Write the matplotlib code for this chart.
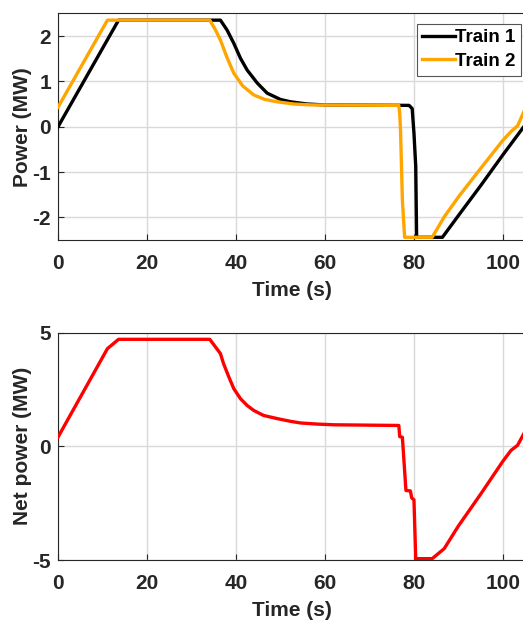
import matplotlib
matplotlib.use("Agg")
import matplotlib.pyplot as plt

plt.rcParams['font.family'] = ['Liberation Sans', 'DejaVu Sans']
plt.rcParams['font.weight'] = 'bold'
plt.rcParams['axes.unicode_minus'] = False

# Train 1 power profile (s, MW)
t_train1 = [0, 13.6, 36.5, 38.0, 39.5, 41.0, 42.5, 44.8, 47.0, 50.0, 52.2, 56.0, 60.0,
            78.9, 79.6, 80.0, 80.4, 80.6, 86.4, 90.0, 95.0, 100.0, 104.7]
p_train1 = [0, 2.35, 2.35, 2.13, 1.84, 1.51, 1.25, 0.96, 0.74, 0.60, 0.55, 0.50, 0.48,
            0.47, 0.40, -0.14, -0.87, -2.44, -2.44, -1.96, -1.30, -0.62, 0.0]

# Train 2 power profile (s, MW)
t_train2 = [0, 11.1, 34.1, 35.3, 36.5, 38.0, 39.5, 41.5, 44.0, 46.5, 49.2, 53.0, 57.0,
            76.6, 76.8, 77.0, 77.4, 77.9, 84.1, 86.8, 90.0, 95.0, 100.0, 101.8, 103.3,
            104.7]
p_train2 = [0.43, 2.35, 2.35, 2.15, 1.91, 1.52, 1.18, 0.90, 0.70, 0.60, 0.55, 0.50, 0.48,
            0.47, 0.30, -0.14, -1.62, -2.44, -2.44, -1.99, -1.55, -0.92, -0.30, -0.11,
            0.02, 0.33]

# Net power drawn by both trains (s, MW)
t_net = [0, 11.1, 13.6, 34.1, 35.4, 36.5, 37.2, 38.4, 39.5, 41.0, 42.5, 44.0, 46.2,
         49.3, 52.3, 54.5, 58.3, 62.0, 76.6, 76.8, 77.4, 78.2, 79.2, 79.5, 80.0, 80.4,
         84.1, 86.8, 90.0, 95.0, 100.0, 101.8, 103.3, 104.7]
p_net = [0.41, 4.30, 4.71, 4.71, 4.37, 4.08, 3.64, 3.05, 2.54, 2.10, 1.80, 1.58, 1.36,
         1.22, 1.10, 1.03, 0.98, 0.95, 0.92, 0.43, 0.40, -1.94, -1.96, -2.27, -2.35,
         -4.94, -4.94, -4.50, -3.50, -2.10, -0.65, -0.18, 0.05, 0.56]

TEXT = '#262626'
GRID = '#d9d9d9'
FS = 15

fig = plt.figure(figsize=(5.23, 6.21), dpi=100)
ax1 = fig.add_axes([0.111, 0.6135, 0.894, 0.365])
ax2 = fig.add_axes([0.111, 0.0982, 0.894, 0.366])

ax1.plot(t_train1, p_train1, color='black', lw=2.4, label='Train 1', zorder=3)
ax1.plot(t_train2, p_train2, color='#FFA500', lw=2.4, label='Train 2', zorder=4)
ax1.set_ylim(-2.5, 2.5)
ax1.set_yticks([-2, -1, 0, 1, 2])
ax1.set_ylabel('Power (MW)', fontsize=FS, fontweight='bold', color=TEXT, labelpad=0)

ax2.plot(t_net, p_net, color='red', lw=2.4, zorder=3)
ax2.set_ylim(-5, 5)
ax2.set_yticks([-5, 0, 5])
ax2.set_ylabel('Net power (MW)', fontsize=FS, fontweight='bold', color=TEXT, labelpad=0)

for ax in (ax1, ax2):
    ax.set_xlim(0, 105.1)
    ax.set_xticks([0, 20, 40, 60, 80, 100])
    ax.set_xlabel('Time (s)', fontsize=FS, fontweight='bold', color=TEXT, labelpad=6)
    ax.grid(True, color=GRID, lw=1.0, zorder=0)
    ax.set_axisbelow(True)
    ax.tick_params(direction='in', length=4, width=0.8, colors=TEXT,
                   labelsize=FS, pad=5)
    ax.tick_params(axis='x', pad=10)
    for lbl in ax.get_xticklabels() + ax.get_yticklabels():
        lbl.set_fontweight('bold')
    for sp in ax.spines.values():
        sp.set_color(TEXT)
        sp.set_linewidth(0.8)

leg = ax1.legend(loc='upper right', bbox_to_anchor=(0.99, 0.955), fontsize=13.5,
                 fancybox=False, edgecolor='#555555', framealpha=1, handlelength=1.75,
                 handletextpad=0.0, borderpad=0.3, labelspacing=0.35,
                 borderaxespad=0)
leg.get_frame().set_linewidth(0.8)
for txt in leg.get_texts():
    txt.set_fontweight('bold')
    txt.set_color('black')

fig.savefig('out.png', dpi=100)
